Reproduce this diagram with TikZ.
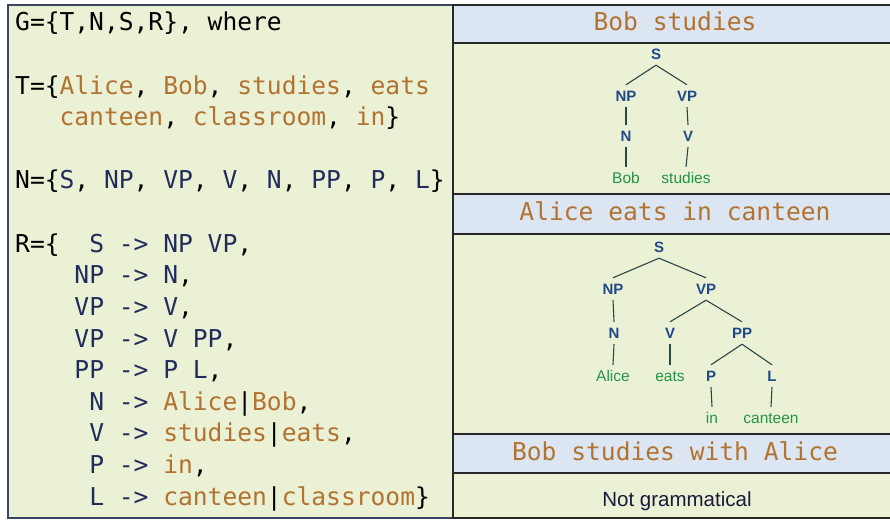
\documentclass[tikz,border=0pt]{standalone}
\usepackage{fontspec}
\setmainfont{Liberation Sans}
\setmonofont{DejaVu Sans Mono}
\usetikzlibrary{positioning}

\definecolor{panelgreen}{RGB}{235,241,213}
\definecolor{headblue}{RGB}{220,230,242}
\definecolor{termbrown}{RGB}{178,114,48}
\definecolor{ntnavy}{RGB}{32,44,92}
\definecolor{treeblue}{RGB}{32,72,138}
\definecolor{leafgreen}{RGB}{36,148,72}
\definecolor{branchgray}{RGB}{40,72,72}
\definecolor{framegray}{RGB}{40,40,40}
\definecolor{leftframe}{RGB}{58,68,100}
\definecolor{plainnavy}{RGB}{26,26,60}

\newcommand{\trm}[1]{\textcolor{termbrown}{#1}}
\newcommand{\ntm}[1]{\textcolor{ntnavy}{#1}}

\begin{document}
\begin{tikzpicture}[
  x=1pt, y=-1pt,
  every node/.style={inner sep=0pt},
  gram/.style={anchor=base west, text=black, font=\ttfamily\fontsize{24.6}{32}\selectfont},
  head/.style={anchor=base, text=termbrown, font=\ttfamily\fontsize{24.6}{32}\selectfont},
  nt/.style={text=treeblue, font=\bfseries\fontsize{15}{18}\selectfont, minimum height=22pt, text height=11pt, text depth=0pt},
  leaf/.style={text=leafgreen, font=\fontsize{15.5}{18}\selectfont, minimum height=22pt, text height=11pt, text depth=0pt},
  branch/.style={draw=branchgray, line width=1.1pt},
  panel/.style={draw=framegray, line width=1.4pt}
]
\useasboundingbox (0,0) rectangle (890,521);
\clip (0,0) rectangle (890,521);

% grammar panel
\draw[leftframe, fill=panelgreen, line width=1.4pt] (8,5) rectangle (453,518);
\node[gram] (gdef) at (15,31) {G=\{T,N,S,R\}, where};
\node[gram] (tset) at (15,94.2) {T=\{\trm{Alice}, \trm{Bob}, \trm{studies}, \trm{eats}};
\node[gram] (tsetb) at (15,125.8) {~~~\trm{canteen}, \trm{classroom}, \trm{in}\}};
\node[gram] (nset) at (15,189) {N=\{\ntm{S}, \ntm{NP}, \ntm{VP}, \ntm{V}, \ntm{N}, \ntm{PP}, \ntm{P}, \ntm{L}\}};
\node[gram] (rule1) at (15,252.2) {R=\{~~\ntm{S -> NP VP},};
\node[gram] (rule2) at (15,283.8) {~~~~\ntm{NP -> N},};
\node[gram] (rule3) at (15,315.4) {~~~~\ntm{VP -> V},};
\node[gram] (rule4) at (15,347) {~~~~\ntm{VP -> V PP},};
\node[gram] (rule5) at (15,378.6) {~~~~\ntm{PP -> P L},};
\node[gram] (rule6) at (15,410.2) {~~~~~\ntm{N ->} \trm{Alice}|\trm{Bob},};
\node[gram] (rule7) at (15,441.8) {~~~~~\ntm{V ->} \trm{studies}|\trm{eats},};
\node[gram] (rule8) at (15,473.4) {~~~~~\ntm{P ->} \trm{in},};
\node[gram] (rule9) at (15,505) {~~~~~\ntm{L ->} \trm{canteen}|\trm{classroom}\}};

% sentence panels
\draw[panel, fill=headblue] (453,5) rectangle (900,43);
\draw[panel, fill=panelgreen] (453,43) rectangle (900,194);
\draw[panel, fill=headblue] (453,194) rectangle (900,234);
\draw[panel, fill=panelgreen] (453,234) rectangle (900,434);
\draw[panel, fill=headblue] (453,434) rectangle (900,473);
\draw[panel, fill=panelgreen] (453,473) rectangle (900,518);

\node[head] (title1) at (675,31) {Bob studies};
\node[head] (title2) at (675,220) {Alice eats in canteen};
\node[head] (title3) at (675,460) {Bob studies with Alice};
\node[anchor=base, text=plainnavy, font=\fontsize{20.5}{24}\selectfont] (verdict) at (677,506) {Not grammatical};

% tree for Bob studies
\node[nt] (s1) at (656,54) {S};
\node[nt] (np1) at (626,96) {NP};
\node[nt] (vp1) at (687,96) {VP};
\node[nt] (n1) at (626,136) {N};
\node[nt] (v1) at (688,136) {V};
\node[leaf] (bob1) at (626,178) {Bob};
\node[leaf] (studies1) at (686,178) {studies};
\draw[branch] (s1.south) -- (np1.north);
\draw[branch] (s1.south) -- (vp1.north);
\draw[branch] (np1.south) -- (n1.north);
\draw[branch] (vp1.south) -- (v1.north);
\draw[branch] (n1.south) -- (bob1.north);
\draw[branch] (v1.south) -- (studies1.north);

% tree for Alice eats in canteen
\node[nt] (s2) at (659,247) {S};
\node[nt] (np2) at (613,289) {NP};
\node[nt] (vp2) at (706,289) {VP};
\node[nt] (n2) at (614,333) {N};
\node[nt] (v2) at (670,333) {V};
\node[nt] (pp2) at (742,333) {PP};
\node[leaf] (alice2) at (613,376) {Alice};
\node[leaf] (eats2) at (670,376) {eats};
\node[nt] (p2) at (711,376) {P};
\node[nt] (l2) at (772,376) {L};
\node[leaf] (in2) at (712,418) {in};
\node[leaf] (canteen2) at (771,418) {canteen};
\draw[branch] (s2.south) -- (np2.north);
\draw[branch] (s2.south) -- (vp2.north);
\draw[branch] (np2.south) -- (n2.north);
\draw[branch] (vp2.south) -- (v2.north);
\draw[branch] (vp2.south) -- (pp2.north);
\draw[branch] (n2.south) -- (alice2.north);
\draw[branch] (v2.south) -- (eats2.north);
\draw[branch] (pp2.south) -- (p2.north);
\draw[branch] (pp2.south) -- (l2.north);
\draw[branch] (p2.south) -- (in2.north);
\draw[branch] (l2.south) -- (canteen2.north);
\end{tikzpicture}
\end{document}
